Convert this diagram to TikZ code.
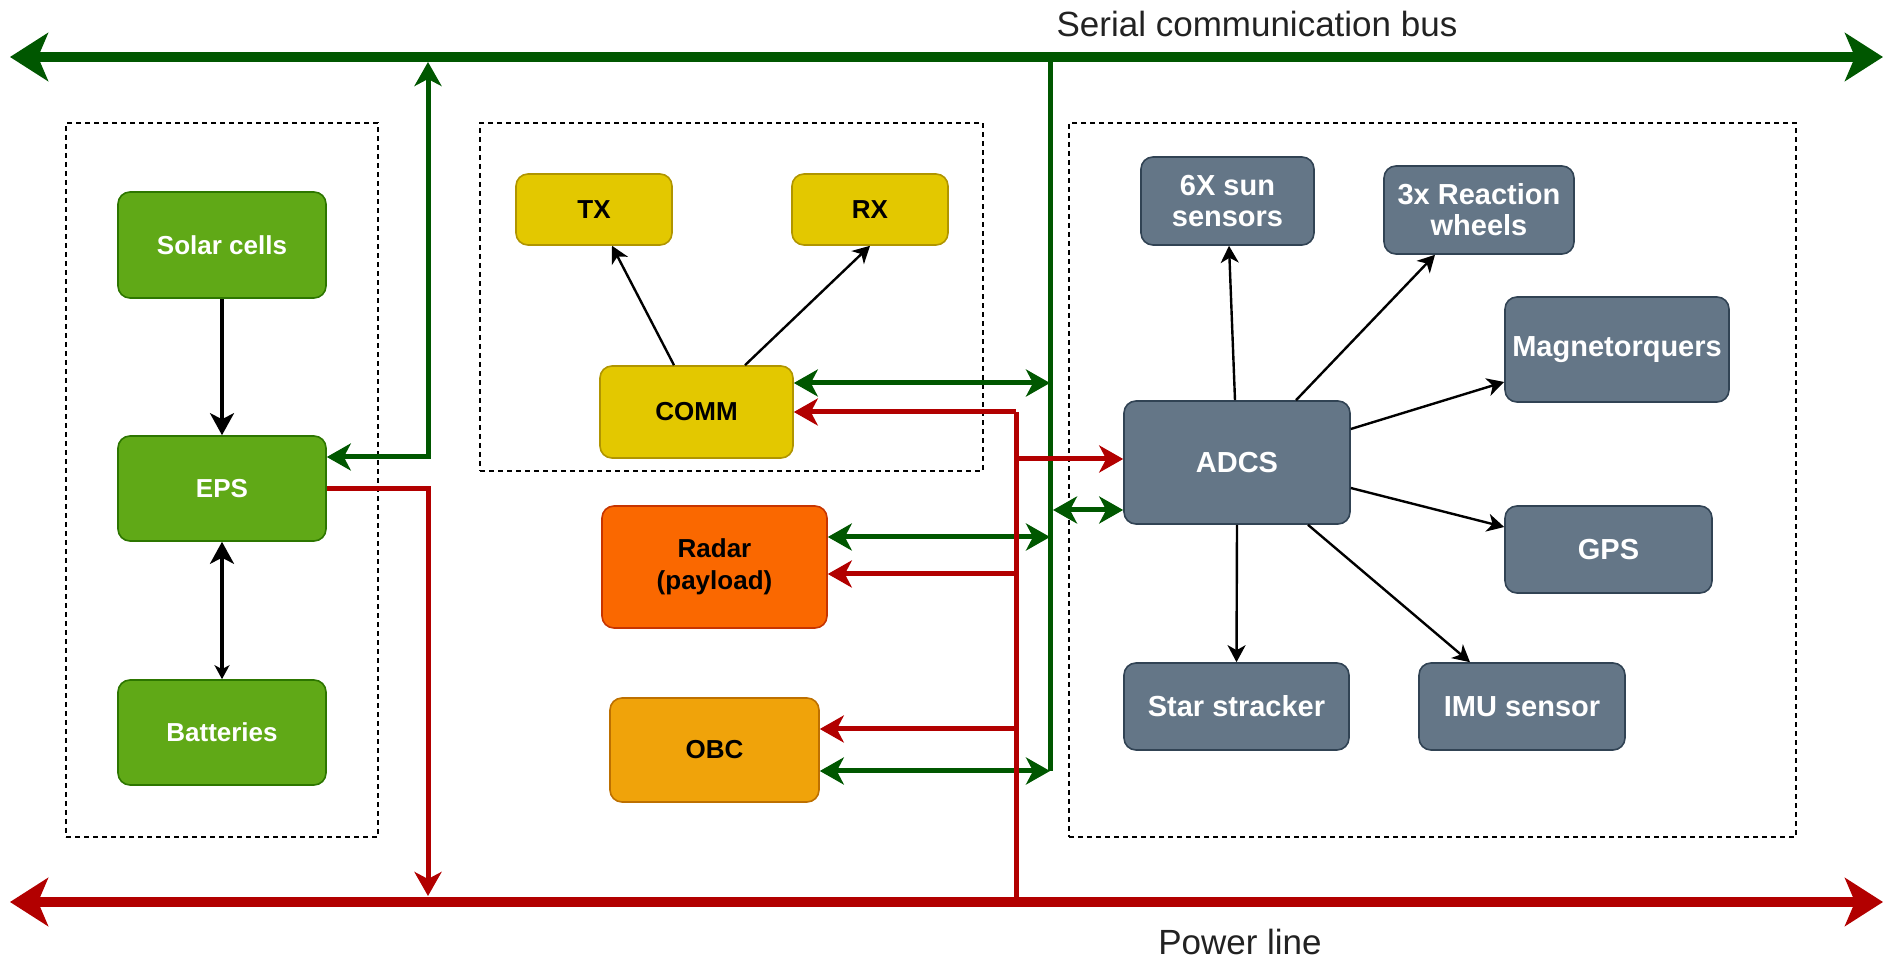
\documentclass[tikz,border=0pt]{standalone}
\usepackage{fontspec}
\setmainfont{Liberation Sans}
\usetikzlibrary{arrows.meta}
\definecolor{gfill}{HTML}{60A917}
\definecolor{gstroke}{HTML}{2D7600}
\definecolor{yfill}{HTML}{E3C800}
\definecolor{ystroke}{HTML}{B09500}
\definecolor{rfill}{HTML}{FA6800}
\definecolor{rstroke}{HTML}{C73500}
\definecolor{ofill}{HTML}{F0A30A}
\definecolor{ostroke}{HTML}{BD7000}
\definecolor{sfill}{HTML}{647687}
\definecolor{sstroke}{HTML}{314354}
\definecolor{busgreen}{HTML}{005700}
\definecolor{busred}{HTML}{B20000}
\definecolor{labeltext}{HTML}{222222}
\begin{document}
\begin{tikzpicture}[x=0.5pt,y=-0.5pt,
  grp/.style={draw=black, line width=0.6pt, dash pattern=on 2.5pt off 2pt, inner sep=0pt, fill=none},
  box/.style={draw, rounded corners=6pt, line width=0.8pt, inner sep=0pt, align=center},
  gbox/.style={box, fill=gfill, draw=gstroke, text=white, font=\bfseries\fontsize{13}{16}\selectfont},
  ybox/.style={box, fill=yfill, draw=ystroke, text=black, font=\bfseries\fontsize{13}{16}\selectfont},
  rbox/.style={box, fill=rfill, draw=rstroke, text=black, font=\bfseries\fontsize{13}{16}\selectfont},
  obox/.style={box, fill=ofill, draw=ostroke, text=black, font=\bfseries\fontsize{13}{16}\selectfont},
  sbox/.style={box, fill=sfill, draw=sstroke, text=white, font=\bfseries\fontsize{14.5}{15.5}\selectfont},
  bus/.style={line width=5pt, {Stealth[length=19pt,width=24pt,inset=5pt]}-{Stealth[length=19pt,width=24pt,inset=5pt]}},
  gline/.style={line width=2.5pt, draw=busgreen, >={Stealth[length=12pt,width=13.5pt,inset=3.5pt]}},
  rline/.style={line width=2.5pt, draw=busred, >={Stealth[length=12pt,width=13.5pt,inset=3.5pt]}},
  karrow/.style={line width=1.6pt, draw=black, >={Stealth[length=11pt,width=12pt,inset=3pt]}, ->},
  tarrow/.style={line width=1.2pt, draw=black, >={Stealth[length=8.5pt,width=9pt,inset=2.5pt]}, ->},
  lbl/.style={inner sep=0pt, text=labeltext, font=\fontsize{17.5}{20}\selectfont}
]
\useasboundingbox (0,0) rectangle (1885,961);

% groups
\node[grp, minimum width=156pt, minimum height=357pt] (gEPS) at (222,480) {};
\node[grp, minimum width=251.5pt, minimum height=174pt] (gCOM) at (731.5,297) {};
\node[grp, minimum width=363.5pt, minimum height=357pt] (gADC) at (1432.5,480) {};

% EPS subsystem
\node[gbox, minimum width=104pt, minimum height=53pt] (solar) at (222,245) {Solar cells};
\node[gbox, minimum width=104pt, minimum height=52.5pt] (EPS) at (222,488.5) {EPS};
\node[gbox, minimum width=104pt, minimum height=52.5pt] (batt) at (222,732.5) {Batteries};

% COMM subsystem
\node[ybox, minimum width=78pt, minimum height=35.5pt] (TX) at (594,209.5) {TX};
\node[ybox, minimum width=78pt, minimum height=35.5pt] (RX) at (870,209.5) {RX};
\node[ybox, minimum width=96.5pt, minimum height=46pt] (COMM) at (696.5,412) {COMM};

% payload and OBC
\node[rbox, minimum width=112.5pt, minimum height=61pt] (radar) at (714.5,567) {Radar\\(payload)};
\node[obox, minimum width=104.5pt, minimum height=52pt] (OBC) at (714.5,750) {OBC};

% ADCS subsystem
\node[sbox, minimum width=86.5pt, minimum height=44pt] (sun) at (1227.5,201) {6X sun\\sensors};
\node[sbox, minimum width=95pt, minimum height=44pt] (rw) at (1479,210) {3x Reaction\\wheels};
\node[sbox, minimum width=112pt, minimum height=52.5pt] (mag) at (1617,349.5) {Magnetorquers};
\node[sbox, minimum width=113pt, minimum height=61.5pt] (ADCS) at (1237,462.5) {ADCS};
\node[sbox, minimum width=103.5pt, minimum height=43.5pt] (gps) at (1608.5,549.5) {GPS};
\node[sbox, minimum width=112.5pt, minimum height=43.5pt] (star) at (1236.5,706.5) {Star stracker};
\node[sbox, minimum width=103pt, minimum height=43.5pt] (imu) at (1522,706.5) {IMU sensor};

% bus labels
\node[lbl] (serial) at (1257,24) {Serial communication bus};
\node[lbl] (power) at (1240,942) {Power line};

% coordinates
\coordinate (busL) at (10,57);
\coordinate (busR) at (1883,57);
\coordinate (pwrL) at (10,902);
\coordinate (pwrR) at (1883,902);
\coordinate (gvTop) at (1050,57);
\coordinate (gvC) at (1050,383);
\coordinate (gvR) at (1050,537);
\coordinate (gvO) at (1050,771);
\coordinate (gvA) at (1053,510);
\coordinate (gE) at (428,457);
\coordinate (gEtop) at (428,62);
\coordinate (rE) at (428,489);
\coordinate (rEbot) at (428,896);
\coordinate (rvTop) at (1016,412);
\coordinate (rvA) at (1016,459);
\coordinate (rvR) at (1016,574);
\coordinate (rvO) at (1016,729);
\coordinate (rvBot) at (1016,898);

% serial bus (green)
\draw[bus, draw=busgreen, fill=busgreen] (busL) -- (busR);
\draw[gline] (gvTop) -- (gvO);
\draw[gline,<->] (EPS.east |- gE) -- (gE) -- (gEtop);
\draw[gline,<->] (COMM.east |- gvC) -- (gvC);
\draw[gline,<->] (radar.east |- gvR) -- (gvR);
\draw[gline,<->] (OBC.east |- gvO) -- (gvO);
\draw[gline,<->] (gvA) -- (ADCS.west |- gvA);

% power line (red)
\draw[rline,->] (EPS.east |- rE) -- (rE) -- (rEbot);
\draw[rline] (rvTop) -- (rvBot);
\draw[rline,->] (rvTop) -- (COMM.east |- rvTop);
\draw[rline,->] (rvA) -- (ADCS.west |- rvA);
\draw[rline,->] (rvR) -- (radar.east |- rvR);
\draw[rline,->] (rvO) -- (OBC.east |- rvO);
\draw[bus, draw=busred, fill=busred] (pwrL) -- (pwrR);

% internal links
\draw[karrow] (solar) -- (EPS);
\draw[line width=1.6pt, {Stealth[length=11pt,width=12pt,inset=3pt]}-{Stealth[length=7pt,width=7.5pt,inset=2pt]}] (EPS) -- (batt);
\draw[tarrow] ([xshift=-11.25pt]COMM.north) -- ([xshift=9pt]TX.south);
\draw[tarrow] ([xshift=24.25pt]COMM.north) -- (RX.south);
\draw[tarrow] ([xshift=-1pt]ADCS.north) -- ([xshift=0.75pt]sun.south);
\draw[tarrow] ([xshift=29.5pt]ADCS.north) -- ([xshift=-22pt]rw.south);
\draw[tarrow] ([yshift=16.75pt]ADCS.east) -- ([yshift=-16.25pt]mag.west);
\draw[tarrow] ([yshift=-12.75pt]ADCS.east) -- ([yshift=11.25pt]gps.west);
\draw[tarrow] (ADCS.south) -- (star.north);
\draw[tarrow] ([xshift=35.5pt]ADCS.south) -- ([xshift=-26pt]imu.north);
\end{tikzpicture}
\end{document}
